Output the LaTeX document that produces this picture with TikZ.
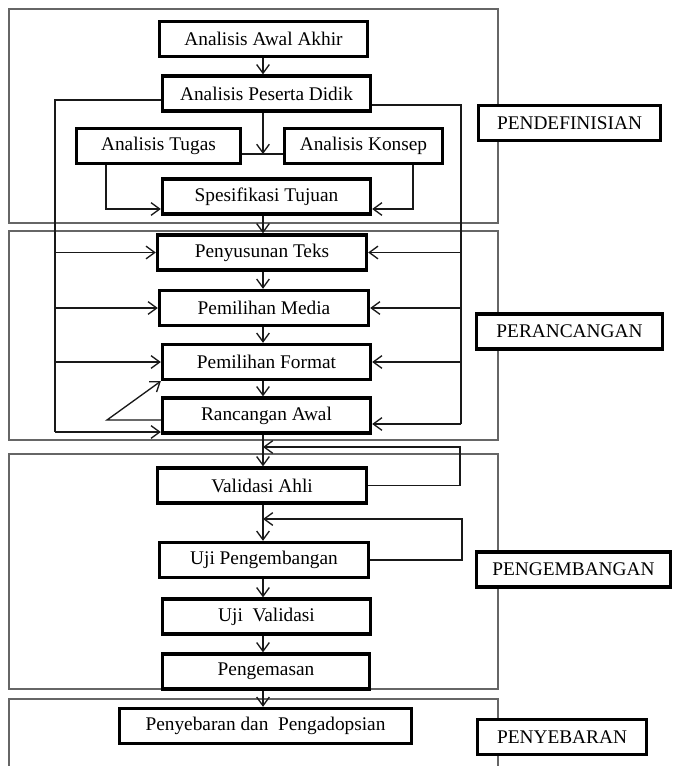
\documentclass[tikz,border=0pt]{standalone}
\usepackage{fontspec}
\setmainfont{Liberation Serif}
\usetikzlibrary{arrows.meta}

\begin{document}
\begin{tikzpicture}[x=0.3mm,y=-0.3mm,
  every node/.style={font=\fontsize{16.5}{19}\selectfont},
  stage/.style={draw, fill=white, line width=1mm, inner sep=0pt, minimum height=10.5mm},
  phase/.style={draw=black!60, line width=0.45mm},
  link/.style={draw=black!90, line width=0.4mm},
  arr/.style={link, -{Straight Barb[length=2.6mm,width=3.8mm]}}]

\useasboundingbox (0,0) rectangle (673,766);

% Phase frames
\draw[phase] (9,9) rectangle (498,223);
\draw[phase] (9,231) rectangle (498,440);
\draw[phase] (9,454) rectangle (498,689);
\draw[phase] (9,766) |- (498,699) -- (498,766);

% Pendefinisian
\node[stage, minimum width=62.4mm] (aaa) at (263.5,39)  {Analisis Awal Akhir};
\node[stage, minimum width=62.4mm] (apd) at (266.5,93.5) {Analisis Peserta Didik};
\node[stage, minimum width=49.2mm] (atg) at (158.5,146) {Analisis Tugas};
\node[stage, minimum width=47.4mm] (akp) at (363.5,146) {Analisis Konsep};
\node[stage, minimum width=62.4mm] (spt) at (266.5,196.5) {Spesifikasi Tujuan};

% Perancangan
\node[stage, minimum width=62.7mm] (pst) at (262,252.5) {Penyusunan Teks};
\node[stage, minimum width=62.7mm] (pmm) at (264,308)   {Pemilihan Media};
\node[stage, minimum width=62.4mm] (pmf) at (266.5,362) {Pemilihan Format};
\node[stage, minimum width=62.4mm] (rca) at (266.5,415.5) {Rancangan Awal};

% Pengembangan
\node[stage, minimum width=62.7mm] (vah) at (262,485.5) {Validasi Ahli};
\node[stage, minimum width=62.7mm] (ujp) at (264,560)   {Uji Pengembangan};
\node[stage, minimum width=62.4mm] (ujv) at (266.5,616.5) {Uji~ Validasi};
\node[stage, minimum width=62.1mm] (pgm) at (266,671.5) {Pengemasan};

% Penyebaran
\node[stage, minimum width=87.6mm] (ppa) at (265.5,726) {Penyebaran dan~ Pengadopsian};

% Phase labels
\node[stage, minimum width=54.6mm] (pdf) at (569.5,123)   {PENDEFINISIAN};
\node[stage, minimum width=55.8mm] (prc) at (569.5,331.5) {PERANCANGAN};
\node[stage, minimum width=58.2mm] (pgb) at (573.5,569.5) {PENGEMBANGAN};
\node[stage, minimum width=50.7mm] (pyb) at (562,737)     {PENYEBARAN};

% Helper points
\coordinate (sp) at (263,0);
\coordinate (jn) at (263,154);
\coordinate (tg) at (106,209);
\coordinate (kp) at (413,209);
\coordinate (lt) at (55,100);
\coordinate (lb) at (55,432);
\coordinate (rt) at (461,105);
\coordinate (rb) at (461,424);
\coordinate (fb) at (107,420);
\coordinate (va) at (460,447);
\coordinate (up) at (462,519);

% Main flow
\draw[arr] (aaa.south -| sp) -- (apd.north -| sp);
\draw[arr] (apd.south -| sp) -- (jn);
\draw[link] (atg.east |- jn) -- (akp.west |- jn);
\draw[arr] (atg.south -| tg) |- (spt.west |- tg);
\draw[arr] (akp.south -| kp) |- (spt.east |- kp);
\draw[arr] (spt.south -| sp) -- (pst.north -| sp);
\draw[arr] (pst.south -| sp) -- (pmm.north -| sp);
\draw[arr] (pmm.south -| sp) -- (pmf.north -| sp);
\draw[arr] (pmf.south -| sp) -- (rca.north -| sp);
\draw[arr] (rca.south -| sp) -- (vah.north -| sp);
\draw[arr] (vah.south -| sp) -- (ujp.north -| sp);
\draw[arr] (ujp.south -| sp) -- (ujv.north -| sp);
\draw[arr] (ujv.south -| sp) -- (pgm.north -| sp);
\draw[arr] (pgm.south -| sp) -- (ppa.north -| sp);

% Side buses from peserta didik
\draw[link] (apd.west |- lt) -- (lt) -- (lb);
\draw[link] (apd.east |- rt) -- (rt) -- (rb);
\draw[arr] (lt |- pst.west) -- (pst.west);
\draw[arr] (lt |- pmm.west) -- (pmm.west);
\draw[arr] (lt |- pmf.west) -- (pmf.west);
\draw[arr] (lb) -- (rca.west |- lb);
\draw[arr] (rt |- pst.east) -- (pst.east);
\draw[arr] (rt |- pmm.east) -- (pmm.east);
\draw[arr] (rt |- pmf.east) -- (pmf.east);
\draw[arr] (rb) -- (rca.east |- rb);

% Feedback loops
\draw[arr] (rca.west |- fb) -- (fb) -- (pmf.south west);
\draw[arr] (vah.east) -| (va) -- (sp |- va);
\draw[arr] (ujp.east) -| (up) -- (sp |- up);

\end{tikzpicture}
\end{document}
